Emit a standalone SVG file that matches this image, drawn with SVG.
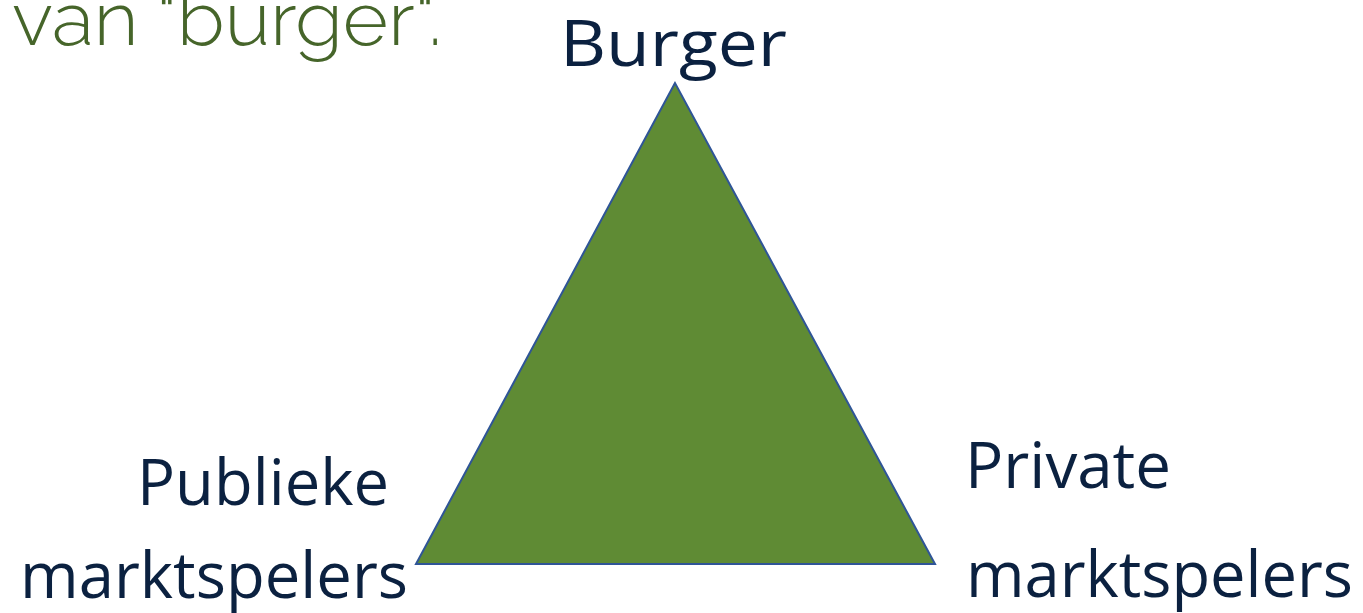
<svg xmlns="http://www.w3.org/2000/svg" width="1363" height="613" viewBox="0 0 1363 613">
<style>
.lbl{font-family:"Open Sans","Noto Sans","Liberation Sans",sans-serif;font-size:64px;fill:#0B2140}
.head{font-family:"Raleway","Lato","Noto Sans",sans-serif;font-weight:300;font-size:76px;fill:#46652A}
.tri{fill:#5F8B34;stroke:#2F5597;stroke-width:2;stroke-linejoin:miter}
</style>
<rect width="1363" height="613" fill="#FFFFFF"/>
<text class="head" x="12" y="45" textLength="430" lengthAdjust="spacingAndGlyphs">van "burger".</text>
<g id="triangle">
<polygon class="tri" points="675,83 416,564 935,564"/>
</g>
<g id="burger">
<text class="lbl" x="560" y="66" textLength="227" lengthAdjust="spacingAndGlyphs">Burger</text>
</g>
<g id="publiek">
<text class="lbl" x="137" y="505" textLength="252" lengthAdjust="spacingAndGlyphs">Publieke</text>
<text class="lbl" x="20" y="598" textLength="388" lengthAdjust="spacingAndGlyphs">marktspelers</text>
</g>
<g id="privaat">
<text class="lbl" x="965" y="488" textLength="206" lengthAdjust="spacingAndGlyphs">Private</text>
<text class="lbl" x="966" y="597" textLength="387" lengthAdjust="spacingAndGlyphs">marktspelers</text>
</g>
<g id="connectors"></g>
</svg>
